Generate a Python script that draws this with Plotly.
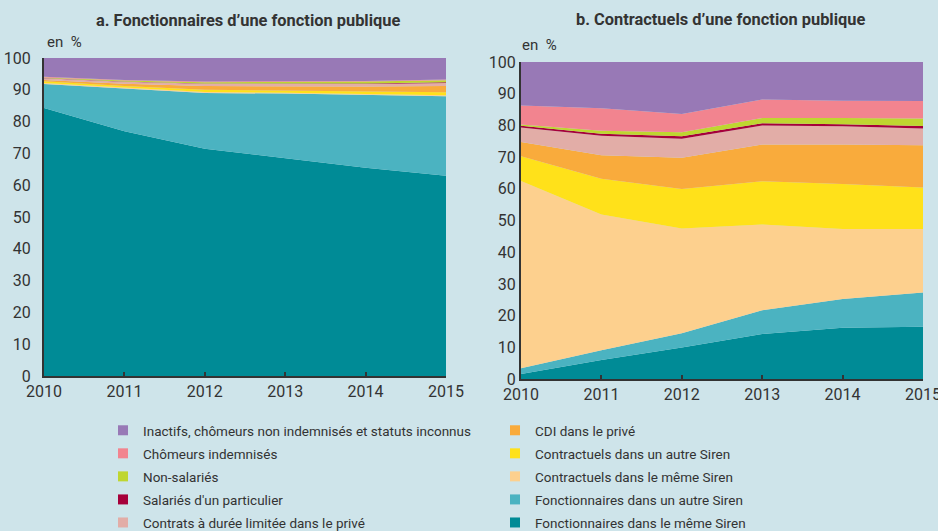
import plotly.graph_objects as go

W, H = 938, 531

years = [2010, 2011, 2012, 2013, 2014, 2015]

series_names = [
    "Fonctionnaires dans le même Siren",
    "Fonctionnaires dans un autre Siren",
    "Contractuels dans le même Siren",
    "Contractuels dans un autre Siren",
    "CDI dans le privé",
    "Contrats à durée limitée dans le privé",
    "Salariés d'un particulier",
    "Non-salariés",
    "Chômeurs indemnisés",
    "Inactifs, chômeurs non indemnisés et statuts inconnus",
]

colors = [
    "#008b96", "#4bb3c1", "#fdd08e", "#ffe11a", "#f9ab3c",
    "#e2ada7", "#a6003a", "#bfd630", "#f2848f", "#9879b6",
]

# panel a. Fonctionnaires
fonct_meme_a = [84.3, 77.0, 71.5, 68.5, 65.5, 63.0]
fonct_autre_a = [7.5, 13.3, 17.5, 20.3, 22.8, 25.0]
contr_meme_a = [0.3, 0.3, 0.3, 0.3, 0.3, 0.3]
contr_autre_a = [0.6, 0.6, 0.7, 0.7, 0.8, 0.9]
cdi_a = [0.4, 0.7, 1.2, 1.3, 1.6, 2.0]
cdl_a = [0.5, 0.6, 0.7, 0.7, 0.8, 0.9]
particulier_a = [0.1, 0.1, 0.1, 0.2, 0.2, 0.3]
non_salaries_a = [0.2, 0.3, 0.4, 0.5, 0.6, 0.6]
chomeurs_a = [0.2, 0.2, 0.2, 0.2, 0.2, 0.2]
inactifs_a = [5.9, 6.9, 7.4, 7.3, 7.2, 6.8]

# panel b. Contractuels
fonct_meme_b = [1.6, 6.0, 9.9, 14.2, 16.2, 16.5]
fonct_autre_b = [1.8, 3.1, 4.5, 7.5, 9.0, 10.8]
contr_meme_b = [59.1, 42.8, 33.1, 27.0, 22.1, 20.0]
contr_autre_b = [7.8, 11.3, 12.4, 13.7, 14.2, 13.1]
cdi_b = [4.5, 7.4, 9.9, 11.6, 12.5, 13.3]
cdl_b = [4.5, 6.1, 6.0, 6.0, 5.7, 5.3]
particulier_b = [0.6, 0.7, 0.8, 0.7, 0.7, 0.8]
non_salaries_b = [0.4, 0.9, 1.2, 1.6, 1.9, 2.4]
chomeurs_b = [6.0, 7.1, 5.8, 5.9, 5.5, 5.5]
inactifs_b = [13.7, 14.6, 16.4, 11.8, 12.2, 12.4]

panel_a = [fonct_meme_a, fonct_autre_a, contr_meme_a, contr_autre_a, cdi_a,
           cdl_a, particulier_a, non_salaries_a, chomeurs_a, inactifs_a]
panel_b = [fonct_meme_b, fonct_autre_b, contr_meme_b, contr_autre_b, cdi_b,
           cdl_b, particulier_b, non_salaries_b, chomeurs_b, inactifs_b]

FONT = "Roboto, Liberation Sans, sans-serif"
TXT = "#333333"
BG = "#cee4ea"


def px_x(x):
    return x / W


def px_y(y):
    return 1 - y / H


fig = go.Figure()

for values, xa, ya, grp in [(panel_a, "x", "y", "a"), (panel_b, "x2", "y2", "b")]:
    for name, vals, col in zip(series_names, values, colors):
        fig.add_trace(
            go.Scatter(
                x=years,
                y=vals,
                name=name,
                mode="lines",
                line=dict(width=0, color=col),
                fillcolor=col,
                stackgroup=grp,
                xaxis=xa,
                yaxis=ya,
                showlegend=False,
                hoverinfo="skip",
            )
        )

# legend entries (two columns, top to bottom)
left_col = [9, 8, 7, 6, 5]
right_col = [4, 3, 2, 1, 0]
for legend_id, idxs in [("legend", left_col), ("legend2", right_col)]:
    for rank, i in enumerate(idxs):
        fig.add_trace(
            go.Scatter(
                x=[None],
                y=[None],
                mode="markers",
                name=series_names[i],
                marker=dict(symbol="square", size=10, color=colors[i]),
                legend=legend_id,
                legendrank=rank + 1,
                legendgroup="g%d" % rank,
                xaxis="x2",
                yaxis="y2",
            )
        )

axis_common = dict(
    showgrid=False,
    zeroline=False,
    showline=True,
    linecolor=TXT,
    linewidth=2,
    automargin=False,
    ticklabeloverflow="allow",
    tickfont=dict(family=FONT, size=16, color=TXT),
)

xaxis_common = dict(
    axis_common,
    range=[2010, 2015],
    tickvals=years,
    ticks="inside",
    ticklen=4,
    tickwidth=2,
    tickcolor=TXT,
)

yaxis_common = dict(axis_common, range=[0, 100], dtick=10, ticks="")

legend_common = dict(
    orientation="v",
    traceorder="grouped",
    bgcolor="rgba(0,0,0,0)",
    font=dict(family=FONT, size=13.5, color=TXT),
    xanchor="left",
    yanchor="top",
    itemclick=False,
    tracegroupgap=2.5,
)

fig.update_layout(
    width=W,
    height=H,
    margin=dict(l=0, r=0, t=0, b=0, autoexpand=False),
    paper_bgcolor=BG,
    plot_bgcolor=BG,
    xaxis=dict(xaxis_common, domain=[px_x(44), px_x(446)], anchor="y"),
    yaxis=dict(yaxis_common, domain=[px_y(376), px_y(58)], anchor="x",
               ticklabelstandoff=8),
    xaxis2=dict(xaxis_common, domain=[px_x(521), px_x(923)], anchor="y2"),
    yaxis2=dict(yaxis_common, domain=[px_y(379), px_y(62)], anchor="x2",
                ticklabelstandoff=0),
    legend=dict(legend_common, x=px_x(103), y=px_y(415)),
    legend2=dict(legend_common, x=px_x(495), y=px_y(415)),
    annotations=[
        dict(text="<b>a. Fonctionnaires d’une fonction publique</b>",
             x=px_x(248), y=px_y(21), xref="paper", yref="paper",
             xanchor="center", yanchor="middle",
             showarrow=False, font=dict(family=FONT, size=16.4, color=TXT)),
        dict(text="<b>b. Contractuels d’une fonction publique</b>",
             x=px_x(720), y=px_y(20), xref="paper", yref="paper",
             xanchor="center", yanchor="middle",
             showarrow=False, font=dict(family=FONT, size=16.4, color=TXT)),
        dict(text="en  %", x=px_x(45), y=px_y(42), xref="paper", yref="paper",
             xanchor="left", yanchor="middle", showarrow=False,
             font=dict(family=FONT, size=15, color=TXT)),
        dict(text="en  %", x=px_x(520), y=px_y(45), xref="paper", yref="paper",
             xanchor="left", yanchor="middle", showarrow=False,
             font=dict(family=FONT, size=15, color=TXT)),
    ],
)

fig.write_html(
    "out.html",
    config={"displayModeBar": False},
    post_script="document.body.style.margin='0px';",
)
